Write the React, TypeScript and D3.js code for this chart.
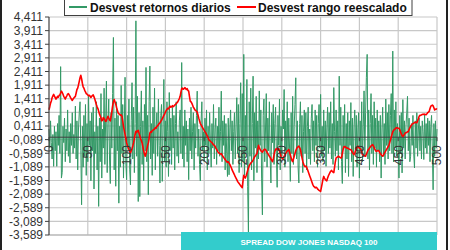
import React from "react";
import * as d3 from "d3";

const W = 450;
const H = 250;

const yTickValues = [4.411, 3.911, 3.411, 2.911, 2.411, 1.911, 1.411, 0.911, 0.411, -0.089, -0.589, -1.089, -1.589, -2.089, -2.589, -3.089, -3.589];
const yTickLabels = ["4,411", "3,911", "3,411", "2,911", "2,411", "1,911", "1,411", "0,911", "0,411", "-0,089", "-0,589", "-1,089", "-1,589", "-2,089", "-2,589", "-3,089", "-3,589"];
const xTickValues = [0, 50, 100, 150, 200, 250, 300, 350, 400, 450, 500];
const xTickLabels = ["0", "50", "100", "150", "200", "250", "300", "350", "400", "450", "500"];

const seriesNames = ["Desvest retornos diarios", "Desvest rango reescalado"];
const seriesColors = ["#339966", "#FF0000"];
const footerText = "SPREAD DOW JONES NASDAQ 100";

const green = [
  0.3,-0.4,0.6,-0.2,-0.8,0.1,-1.07,0.4,-0.5,0.2,
  -1.07,0.5,-0.3,0.8,-0.6,2.59,-1.5,-1.3,0.4,-0.2,
  0.7,-0.9,0.3,-0.5,1.0,-0.7,0.2,-0.94,0.5,-0.3,
  0.9,-0.6,0.1,-0.4,1.14,-0.8,0.6,-1.2,0.3,0.9,
  1.3,-0.5,-2.48,0.4,-1.1,0.8,-0.7,1.2,-1.4,0.5,
  -0.9,1.5,-0.3,0.6,-1.6,0.9,-0.5,1.1,-1.9,0.2,
  -0.6,1.3,-1.2,0.4,-2.54,0.7,-0.9,1.6,-1.5,0.3,
  -0.4,1.8,-1.0,0.6,2.06,-1.3,0.5,1.4,-0.8,-1.7,
  0.9,-0.4,1.6,3.66,-1.2,0.7,-1.8,1.3,-0.5,0.8,
  -2.42,0.4,-1.1,1.9,-0.6,1.2,-1.5,0.3,2.2,-0.9,
  -1.56,0.8,-0.4,1.4,-1.2,-1.75,0.6,2.0,-0.8,1.1,
  -1.3,0.5,4.27,-0.7,1.5,-2.36,0.9,-2.18,0.4,1.7,
  -1.0,0.6,-1.6,1.2,-0.5,2.56,-0.9,0.8,-2.11,1.3,
  2.61,-0.8,0.5,-1.4,1.1,-0.6,1.8,-1.2,0.3,0.9,
  -0.7,1.4,-0.3,-1.68,0.8,1.2,-1.62,0.4,2.12,-0.9,
  0.6,-1.1,1.3,0.2,-1.44,1.64,-0.5,0.7,-1.0,1.1,
  -0.4,0.8,-1.2,0.5,1.3,-0.7,0.2,-0.95,0.6,1.0,
  -0.6,2.74,-0.8,0.4,-1.1,1.0,-0.3,0.6,-0.9,0.3,
  -1.56,0.7,-0.5,1.1,-0.8,0.2,0.9,-1.2,0.5,-0.4,
  0.8,1.69,-0.7,0.3,-1.0,-1.6,0.6,1.3,-0.5,0.2,
  -0.9,0.7,-0.3,1.0,-1.2,0.4,-0.6,0.9,-0.2,-1.1,
  0.5,-0.4,1.2,-0.8,0.3,0.7,-1.0,0.4,-0.5,1.1,
  -0.7,0.2,1.69,-0.9,0.6,-0.3,0.8,-1.2,0.5,-0.6,
  -1.44,0.7,-1.38,0.3,1.0,-0.5,0.6,-1.0,0.2,0.9,
  -0.8,0.4,1.45,-0.6,1.2,-1.3,0.5,2.0,-1.1,1.6,
  -0.9,3.04,-1.4,0.8,-0.6,2.12,-1.8,-3.5,1.3,-0.7,
  1.8,-1.2,0.5,2.24,-1.6,0.9,-0.4,1.5,-1.3,0.6,
  -0.8,1.7,-0.3,1.0,-1.5,-2.85,0.8,1.4,-0.9,0.3,
  1.6,-1.1,0.7,-0.5,1.3,-0.8,-1.68,0.9,-0.2,1.2,
  -1.0,0.5,1.1,-0.6,-1.84,0.8,-0.3,1.4,-1.2,0.4,
  -0.7,1.0,0.3,1.75,-1.1,0.6,-0.5,1.3,-0.9,0.7,
  -0.4,-1.62,0.9,-0.6,1.5,-1.0,0.4,1.2,2.18,-0.8,
  0.6,-1.1,-1.68,0.5,1.3,-0.7,0.8,-1.3,0.2,1.0,
  -0.6,0.9,-1.2,0.4,1.1,-0.8,0.3,-1.0,0.7,1.2,
  -0.5,0.6,-0.9,1.0,-0.3,0.8,-1.1,0.5,1.2,-0.4,
  1.57,-0.7,0.4,-0.9,1.0,-0.5,0.6,-1.07,0.3,1.1,
  -0.6,0.9,-0.4,1.3,-0.8,0.5,-1.0,1.82,0.2,-0.7,
  1.0,-0.5,0.6,-1.2,2.24,-0.3,1.1,-0.9,-1.7,0.8,
  -0.4,1.2,-1.3,0.5,-0.8,0.9,-1.44,0.6,-0.3,1.27,
  -0.9,0.7,-1.44,0.4,1.0,-0.6,0.8,-1.1,0.3,0.9,
  -1.5,0.6,-0.5,1.3,-0.9,0.4,1.7,-0.7,0.9,2.2,
  3.04,-0.8,1.0,-1.2,0.5,1.6,-0.6,0.8,-1.0,1.3,
  -0.4,0.7,-1.1,1.0,-0.5,0.6,-0.9,0.8,-1.5,0.3,
  1.1,-0.7,0.5,-1.0,1.4,-0.3,0.9,-0.8,1.2,-0.5,
  0.8,1.6,-0.6,3.16,-0.9,1.0,-0.4,1.3,-0.7,0.5,
  -0.3,-1.5,0.8,-0.6,0.9,-1.31,1.38,-0.4,0.6,-0.8,
  0.4,0.9,1.5,-0.5,0.7,-0.9,-0.7,0.5,-0.3,0.8,
  -0.6,-1.13,0.6,-0.4,0.9,-0.7,0.3,0.7,-0.5,0.4,
  -0.8,0.6,0.2,-0.82,0.83,-0.4,0.5,-0.6,0.7,-0.3,
  0.6,-0.9,0.4,0.8,-0.5,-1.93,0.5,-0.7,0.6,-0.4,
  0.3
];

const red = [
  1.01,1.12,1.25,1.33,1.45,1.52,1.57,1.5,1.46,1.4,
  1.44,1.5,1.47,1.53,1.55,1.62,1.69,1.64,1.58,1.5,
  1.45,1.4,1.47,1.52,1.58,1.6,1.55,1.5,1.44,1.39,
  1.35,1.4,1.44,1.47,1.5,1.62,1.75,1.8,1.92,2.05,
  2.18,2.27,2.15,1.98,1.85,1.8,1.72,1.66,1.6,1.58,
  1.55,1.52,1.54,1.5,1.46,1.5,1.53,1.55,1.48,1.4,
  1.3,1.2,1.12,1.05,0.95,0.85,0.78,0.7,0.6,0.62,
  0.72,0.68,0.64,0.58,0.6,0.7,0.77,0.7,0.64,0.6,
  0.75,0.95,1.15,1.3,1.38,1.3,1.22,1.1,1.0,0.9,
  0.86,0.84,0.8,0.82,0.77,0.6,0.4,0.25,0.1,-0.05,
  -0.21,-0.3,-0.38,-0.45,-0.52,-0.58,-0.5,-0.42,-0.32,-0.21,
  -0.05,0.1,0.22,0.18,0.24,0.25,0.15,0.05,-0.05,-0.12,
  -0.21,-0.35,-0.5,-0.62,-0.7,-0.6,-0.45,-0.32,-0.21,-0.05,
  0.16,0.2,0.18,0.24,0.26,0.28,0.3,0.35,0.33,0.4,
  0.42,0.46,0.5,0.53,0.58,0.62,0.68,0.74,0.8,0.85,
  0.92,0.98,1.02,1.06,1.04,1.1,1.14,1.1,1.12,1.16,
  1.12,1.14,1.18,1.2,1.24,1.26,1.3,1.36,1.42,1.5,
  1.65,1.78,1.8,1.76,1.78,1.82,1.79,1.75,1.78,1.72,
  1.69,1.5,1.32,1.3,1.25,1.18,1.1,1.06,1.0,0.98,
  0.95,0.92,0.82,0.7,0.6,0.5,0.45,0.4,0.35,0.3,
  0.25,0.2,0.16,0.1,0.04,-0.02,-0.1,-0.12,-0.15,-0.18,
  -0.2,-0.24,-0.28,-0.3,-0.33,-0.4,-0.45,-0.5,-0.55,-0.58,
  -0.6,-0.62,-0.6,-0.65,-0.7,-0.74,-0.78,-0.82,-0.86,-0.9,
  -0.92,-0.9,-0.95,-1.0,-1.06,-1.12,-1.2,-1.26,-1.32,-1.38,
  -1.45,-1.5,-1.56,-1.62,-1.66,-1.7,-1.74,-1.78,-1.82,-1.85,
  -1.6,-1.4,-1.45,-1.5,-1.42,-1.32,-1.22,-1.13,-1.05,-1.0,
  -0.95,-0.92,-0.89,-0.84,-0.78,-0.72,-0.68,-0.64,-0.6,-0.45,
  -0.3,-0.38,-0.45,-0.5,-0.52,-0.55,-0.5,-0.46,-0.44,-0.45,
  -0.5,-0.56,-0.6,-0.65,-0.7,-0.74,-0.8,-0.85,-0.9,-0.8,
  -0.65,-0.52,-0.45,-0.42,-0.46,-0.44,-0.42,-0.5,-0.6,-0.7,
  -0.76,-0.8,-0.75,-0.7,-0.66,-0.6,-0.55,-0.5,-0.48,-0.45,
  -0.55,-0.65,-0.75,-0.85,-0.9,-0.8,-0.7,-0.6,-0.5,-0.42,
  -0.38,-0.35,-0.33,-0.38,-0.45,-0.6,-0.75,-0.88,-0.98,-1.05,
  -1.08,-1.06,-1.1,-1.18,-1.26,-1.34,-1.42,-1.5,-1.58,-1.66,
  -1.74,-1.8,-1.82,-1.86,-1.84,-1.85,-1.9,-1.92,-1.95,-1.97,
  -1.99,-1.85,-1.7,-1.55,-1.44,-1.5,-1.55,-1.58,-1.6,-1.5,
  -1.42,-1.36,-1.3,-1.25,-1.22,-1.25,-1.28,-1.3,-1.1,-0.9,
  -0.76,-0.74,-0.72,-0.7,-0.72,-0.74,-0.76,-0.75,-0.6,-0.45,
  -0.35,-0.34,-0.36,-0.38,-0.4,-0.4,-0.42,-0.44,-0.45,-0.46,
  -0.5,-0.56,-0.6,-0.64,-0.58,-0.5,-0.42,-0.36,-0.33,-0.36,
  -0.4,-0.42,-0.45,-0.55,-0.64,-0.66,-0.68,-0.69,-0.7,-0.62,
  -0.55,-0.48,-0.44,-0.4,-0.36,-0.32,-0.3,-0.27,-0.32,-0.38,
  -0.45,-0.5,-0.52,-0.5,-0.48,-0.5,-0.55,-0.6,-0.64,-0.67,
  -0.7,-0.66,-0.6,-0.55,-0.5,-0.45,-0.4,-0.35,-0.3,-0.2,
  -0.1,0.0,0.1,0.2,0.25,0.28,0.3,0.34,0.35,0.34,
  0.33,0.33,0.28,0.2,0.12,0.06,0.03,0.06,0.1,0.15,
  0.16,0.18,0.2,0.2,0.28,0.34,0.4,0.44,0.48,0.5,
  0.52,0.53,0.55,0.54,0.53,0.6,0.68,0.77,0.8,0.8,
  0.82,0.84,0.83,0.85,0.84,0.83,0.83,0.86,0.9,0.92,
  0.95,1.05,1.14,1.16,1.18,1.15,1.08,1.0,1.02,1.04,
  1.02
];

export default function App() {
  const left = 49, right = 437, top = 17, bottom = 235;
  const x = d3.scaleLinear().domain([0, 500]).range([left, right]);
  const y = d3.scaleLinear().domain([-3.589, 4.411]).range([bottom, top]);
  const xg = d3.scaleLinear().domain([0, green.length - 1]).range([x(0), x(500)]);
  const xr = d3.scaleLinear().domain([0, red.length - 1]).range([x(0), x(500)]);
  const lineG = d3.line<number>().x((d, i) => xg(i)).y((d) => y(d));
  const lineR = d3.line<number>().x((d, i) => xr(i)).y((d) => y(d));
  const font = "Arial, 'Liberation Sans', sans-serif";
  const y0 = y(0);

  return (
    <svg width={W} height={H} style={{ position: "absolute", left: 0, top: 0, background: "#fff" }} fontFamily={font}>
      <rect x={0} y={0} width={W} height={H} fill="#fff" />
      {yTickValues.map((v) => (
        <line key={"gy" + v} x1={left} x2={right} y1={y(v)} y2={y(v)} stroke="#C8C8C8" strokeWidth={1.2} />
      ))}
      {xTickValues.slice(1).map((v) => (
        <line key={"gx" + v} x1={x(v)} x2={x(v)} y1={top} y2={bottom} stroke="#C8C8C8" strokeWidth={1.2} />
      ))}
      <line x1={left} x2={right} y1={bottom} y2={bottom} stroke="#B0B0B0" strokeWidth={1.2} />
      <path d={lineG(green) || ""} fill="none" stroke={seriesColors[0]} strokeWidth={1} strokeLinejoin="round" />
      <line x1={left} x2={right} y1={y0} y2={y0} stroke="#404040" strokeWidth={1} />
      {xTickValues.map((v) => (
        <line key={"xt" + v} x1={x(v)} x2={x(v)} y1={y0} y2={y0 + 4} stroke="#404040" strokeWidth={1} />
      ))}
      <path d={lineR(red) || ""} fill="none" stroke={seriesColors[1]} strokeWidth={1.6} strokeLinejoin="round" />
      {xTickValues.map((v, i) => (
        <text key={"xl" + v} transform={`translate(${x(v)},${y0 + 8}) rotate(-90)`} textAnchor="end" dy="0.36em" fontSize={12} fill="#333">
          {xTickLabels[i]}
        </text>
      ))}
      <line x1={left} x2={left} y1={top} y2={bottom} stroke="#404040" strokeWidth={1.2} />
      {yTickValues.map((v, i) => (
        <g key={"yt" + v}>
          <line x1={left - 4} x2={left} y1={y(v)} y2={y(v)} stroke="#404040" strokeWidth={1} />
          <text x={43} y={y(v)} dy="0.36em" textAnchor="end" fontSize={12} fill="#333">
            {yTickLabels[i]}
          </text>
        </g>
      ))}
      <rect x={64.5} y={-1} width={347.5} height={16.5} fill="#fff" stroke="#404040" strokeWidth={1} />
      <line x1={69} x2={87} y1={7} y2={7} stroke={seriesColors[0]} strokeWidth={2} />
      <text x={90} y={11.5} fontSize={12} fontWeight="bold" fill="#111">{seriesNames[0]}</text>
      <line x1={237} x2={256} y1={7} y2={7} stroke={seriesColors[1]} strokeWidth={2} />
      <text x={258} y={11.5} fontSize={12} fontWeight="bold" fill="#111">{seriesNames[1]}</text>
      <rect x={181} y={232} width={256} height={18} fill="#33CCCC" />
      <text x={309} y={244.5} textAnchor="middle" fontSize={8} fontWeight="bold" fill="#fff">{footerText}</text>
      <rect x={0} y={0} width={2} height={H} fill="#222" />
      <rect x={446} y={0} width={2} height={H} fill="#222" />
    </svg>
  );
}
